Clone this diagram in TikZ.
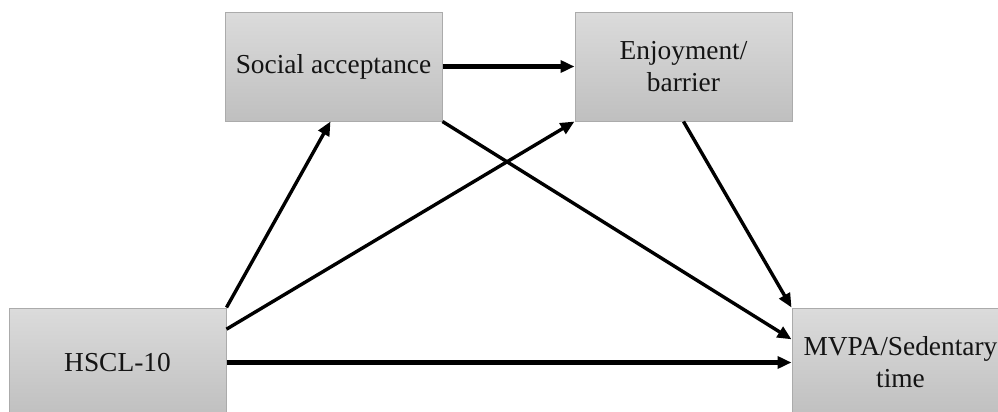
\documentclass[tikz,border=0pt]{standalone}
\usepackage{fontspec}
\setmainfont{Liberation Serif}
\usetikzlibrary{arrows.meta, positioning}

\tikzset{
  varbox/.style={draw=black!33, line width=0.5pt, top color=black!14, bottom color=black!25,
    minimum width=108.5pt, minimum height=54.5pt, inner sep=0pt, align=center,
    text=black!92, font=\fontsize{13.7}{16}\selectfont},
  path/.style={line width=1.7pt, -{Triangle[length=7pt,width=6pt]}},
  mainpath/.style={path, line width=2.2pt}
}

\begin{document}
\begin{tikzpicture}[x=0.5pt, y=-0.5pt]
            \clip (0,0) rectangle (998,412);
            \node[varbox] (sa) at (333.5,66.5) {Social acceptance};
            \node[varbox] (eb) at (683.5,66.5) {Enjoyment/\\barrier};
            \node[varbox] (hs) at (117.5,362.5) {HSCL-10};
            \node[varbox] (mv) at (900.5,362.5) {MVPA/Sedentary\\time};
            \begin{scope}[mainpath]
              \draw (sa.east) -- (eb.west);
              \draw (hs.east) -- (mv.west);
            \end{scope}
            \begin{scope}[path]
              \draw (hs.north east) -- ([xshift=-1.5]sa.south);
              \draw (hs.17) -- (eb.south west);
              \draw (sa.south east) -- (mv.168);
              \draw (eb.south) -- (mv.north west);
            \end{scope}
          \end{tikzpicture}
\end{document}
